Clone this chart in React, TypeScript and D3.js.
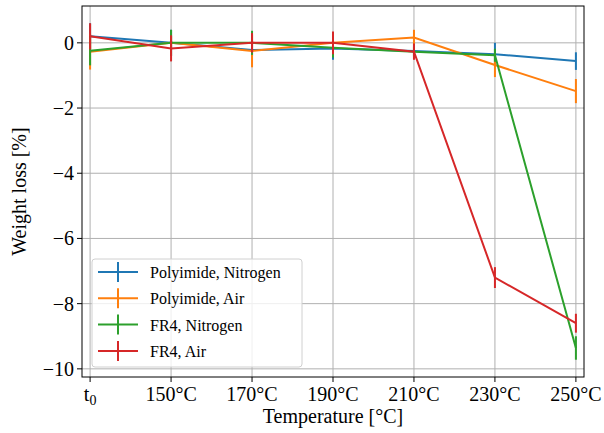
import React from "react";
import * as d3 from "d3";

const categories = ["t0", "150°C", "170°C", "190°C", "210°C", "230°C", "250°C"];
const yTicks = [0, -2, -4, -6, -8, -10];

const seriesNames = ["Polyimide, Nitrogen", "Polyimide, Air", "FR4, Nitrogen", "FR4, Air"];
const colors = ["#1f77b4", "#ff7f0e", "#2ca02c", "#d62728"];

const polyimideNitrogen = [0.2, 0.0, -0.22, -0.17, -0.25, -0.35, -0.56];
const polyimideNitrogenErr = [0.4, 0.4, 0.2, 0.35, 0.2, 0.35, 0.27];
const polyimideAir = [-0.27, 0.0, -0.25, 0.0, 0.16, -0.68, -1.48];
const polyimideAirErr = [0.55, 0.2, 0.5, 0.2, 0.24, 0.37, 0.37];
const fr4Nitrogen = [-0.24, 0.0, 0.0, -0.15, -0.27, -0.38, -9.36];
const fr4NitrogenErr = [0.45, 0.4, 0.37, 0.3, 0.15, 0.2, 0.36];
const fr4Air = [0.2, -0.17, 0.0, 0.0, -0.27, -7.2, -8.6];
const fr4AirErr = [0.4, 0.4, 0.3, 0.35, 0.25, 0.32, 0.29];

const values = [polyimideNitrogen, polyimideAir, fr4Nitrogen, fr4Air];
const errors = [polyimideNitrogenErr, polyimideAirErr, fr4NitrogenErr, fr4AirErr];

const W = 604;
const H = 433;
const M = { left: 82, right: 584, top: 6, bottom: 377 };
const FONT = "'Liberation Serif', 'Times New Roman', serif";

export default function App() {
  const x = d3.scaleLinear().domain([-0.1, 6.1]).range([M.left, M.right]);
  const y = d3.scaleLinear().domain([-10.25, 1.13]).range([M.bottom, M.top]);
  const line = d3
    .line<number>()
    .x((_, i) => x(i))
    .y((d) => y(d));

  return (
    <svg width={W} height={H} style={{ position: "absolute", left: 0, top: 0 }}>
      <rect x={0} y={0} width={W} height={H} fill="white" />
      {/* grid */}
      {categories.map((_, i) => (
        <line key={"gx" + i} x1={x(i)} x2={x(i)} y1={M.top} y2={M.bottom} stroke="#b0b0b0" strokeWidth={1} />
      ))}
      {yTicks.map((t) => (
        <line key={"gy" + t} x1={M.left} x2={M.right} y1={y(t)} y2={y(t)} stroke="#b0b0b0" strokeWidth={1} />
      ))}
      {/* series */}
      {values.map((vals, s) => (
        <g key={"s" + s}>
          <path d={line(vals) || ""} fill="none" stroke={colors[s]} strokeWidth={2} />
          {vals.map((v, i) => (
            <line
              key={i}
              x1={x(i)}
              x2={x(i)}
              y1={y(v + errors[s][i])}
              y2={y(v - errors[s][i])}
              stroke={colors[s]}
              strokeWidth={2}
            />
          ))}
        </g>
      ))}
      {/* spines */}
      <rect x={M.left} y={M.top} width={M.right - M.left} height={M.bottom - M.top} fill="none" stroke="black" strokeWidth={1} />
      {/* x ticks */}
      {categories.map((c, i) => (
        <g key={"xt" + i}>
          <line x1={x(i)} x2={x(i)} y1={M.bottom} y2={M.bottom + 5} stroke="black" strokeWidth={1} />
          <text x={x(i)} y={M.bottom + 24} textAnchor="middle" fontFamily={FONT} fontSize={20}>
            {c === "t0" ? (
              <>
                t<tspan fontSize={14} dy={4}>0</tspan>
              </>
            ) : (
              c
            )}
          </text>
        </g>
      ))}
      {/* y ticks */}
      {yTicks.map((t) => (
        <g key={"yt" + t}>
          <line x1={M.left - 5} x2={M.left} y1={y(t)} y2={y(t)} stroke="black" strokeWidth={1} />
          <text x={M.left - 8} y={y(t) + 7} textAnchor="end" fontFamily={FONT} fontSize={20}>
            {t < 0 ? "\u2212" + Math.abs(t) : String(t)}
          </text>
        </g>
      ))}
      {/* axis labels */}
      <text x={(M.left + M.right) / 2} y={423} textAnchor="middle" fontFamily={FONT} fontSize={20}>
        Temperature [°C]
      </text>
      <text
        transform={`translate(26, ${(M.top + M.bottom) / 2}) rotate(-90)`}
        textAnchor="middle"
        fontFamily={FONT}
        fontSize={20}
      >
        Weight loss [%]
      </text>
      {/* legend */}
      <g>
        <rect x={92} y={259} width={210} height={108} rx={3} fill="white" fillOpacity={0.8} stroke="#d0d0d0" strokeWidth={1} />
        {seriesNames.map((n, s) => {
          const ly = 272 + s * 26.3;
          return (
            <g key={"lg" + s}>
              <line x1={98} x2={138} y1={ly} y2={ly} stroke={colors[s]} strokeWidth={2} />
              <line x1={118} x2={118} y1={ly - 10} y2={ly + 10} stroke={colors[s]} strokeWidth={2} />
              <text x={150} y={ly + 6} fontFamily={FONT} fontSize={16}>
                {n}
              </text>
            </g>
          );
        })}
      </g>
    </svg>
  );
}
